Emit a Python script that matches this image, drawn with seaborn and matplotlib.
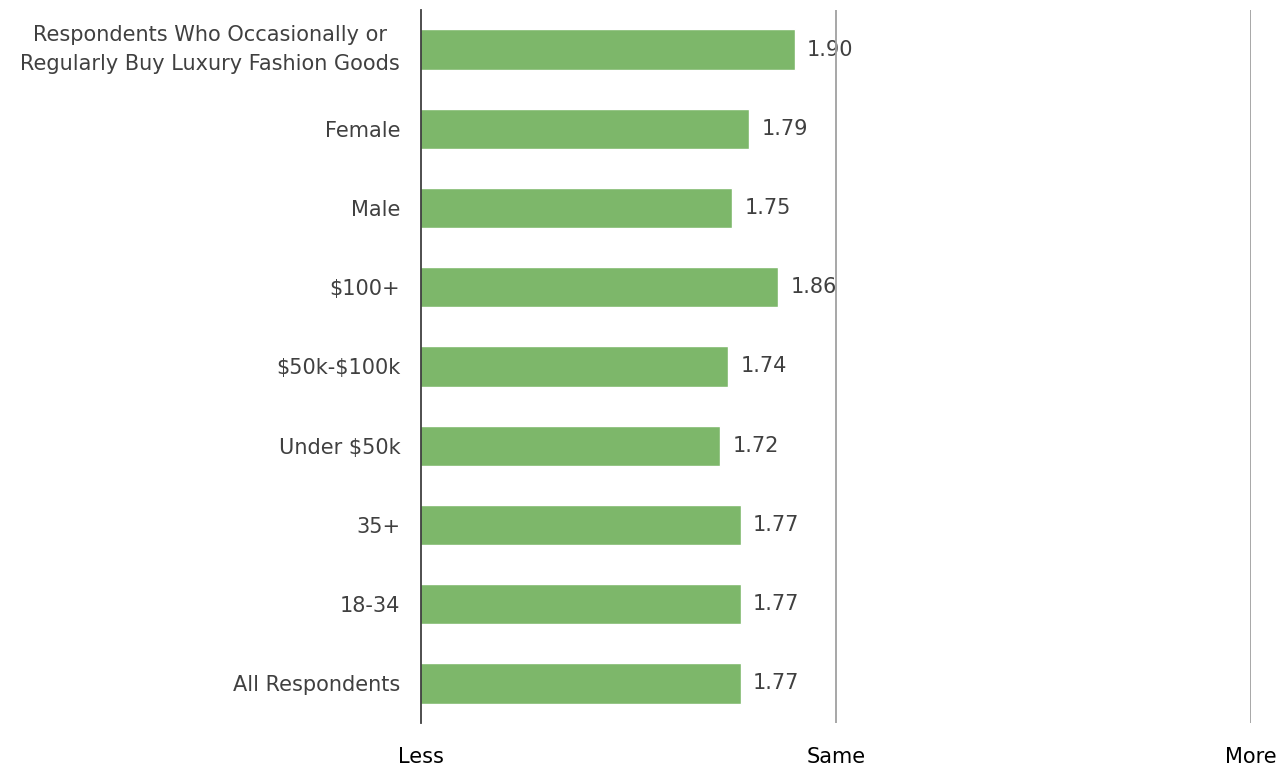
import matplotlib
matplotlib.use("Agg")
import matplotlib.pyplot as plt
import seaborn as sns
import pandas as pd

categories = [
    "Respondents Who Occasionally or\nRegularly Buy Luxury Fashion Goods",
    "Female",
    "Male",
    "\\$100+",
    "\\$50k-\\$100k",
    "Under \\$50k",
    "35+",
    "18-34",
    "All Respondents",
]
scores = [1.90, 1.79, 1.75, 1.86, 1.74, 1.72, 1.77, 1.77, 1.77]
scale_ticks = [1, 2, 3]
scale_labels = ["Less", "Same", "More"]

df = pd.DataFrame({"group": categories, "score": scores})

sns.set_theme(style="white")
plt.rcParams["font.family"] = ["DejaVu Sans"]

fig = plt.figure(figsize=(12.81, 7.69), dpi=100)
ax = fig.add_axes([421 / 1281, 1 - 723 / 769, 830 / 1281, 713 / 769])

sns.barplot(data=df, x="score", y="group", orient="h", color="#7db76a",
            saturation=1, width=0.51, ax=ax)

ax.set_xlim(1, 3)
ax.set_ylim(len(categories) - 0.5, -0.5)

for x in scale_ticks[1:]:
    ax.axvline(x, color="#a0a0a0", lw=1.3, zorder=5)

for spine in ["top", "right", "bottom"]:
    ax.spines[spine].set_visible(False)
ax.spines["left"].set_color("#404040")
ax.spines["left"].set_linewidth(1.3)

fs = 15
for i, v in enumerate(scores):
    ax.text(v + 0.03, i, f"{v:.2f}", va="center", ha="left",
            fontsize=fs, color="#404040", zorder=4)

ax.set_xticks(scale_ticks)
ax.set_xticklabels(scale_labels, fontsize=fs, color="black")
ax.tick_params(axis="x", length=0, pad=17)
ax.tick_params(axis="y", length=0, pad=15, labelsize=fs, labelcolor="#404040")
for lbl in ax.get_yticklabels():
    lbl.set_horizontalalignment("right")
    lbl.set_multialignment("center")
    if "\n" in lbl.get_text():
        lbl.set_linespacing(1.6)
        lbl.set_verticalalignment("center")
ax.set_xlabel("")
ax.set_ylabel("")

fig.savefig("out.png", dpi=100)
